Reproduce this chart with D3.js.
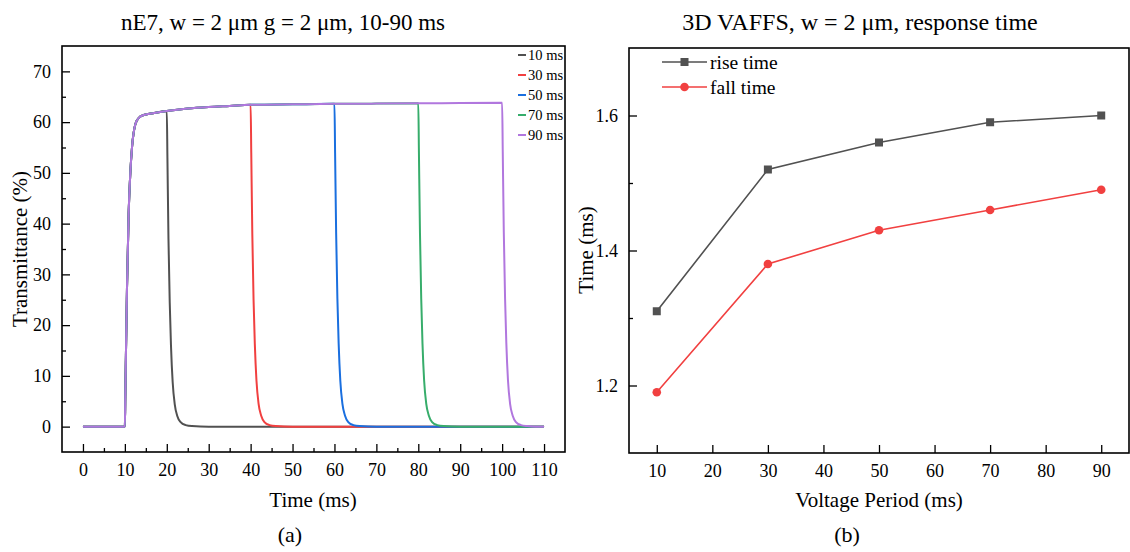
<!DOCTYPE html>
<html>
<head>
<meta charset="utf-8">
<script src="https://cdn.jsdelivr.net/npm/d3@7"></script>
<style>
  html, body { margin: 0; padding: 0; background: #fff; }
  svg { display: block; }
  text { font-family: "Liberation Serif", "Times New Roman", serif; fill: #000; }
</style>
</head>
<body>
<svg id="fig" width="1130" height="552"></svg>
<script>
// ---------- (a) transmittance traces: [time ms, transmittance %] ----------
const trace10 = [[0,0],[10,0],[10.1,6],[10.25,14],[10.5,27],[10.9,42],[11.3,50],[11.7,55],[12.5,59.6],[13.3,60.8],[14.5,61.4],[17,61.8],[20,62.2],
  [20.15,53],[20.4,37],[20.7,24.5],[21,16],[21.4,8.8],[21.9,4.4],[22.5,2.1],[23.3,0.9],[24.5,0.3],[26,0.1],[30,0],[110,0]];
const trace30 = [[0,0],[10,0],[10.1,6],[10.25,14],[10.5,27],[10.9,42],[11.3,50],[11.7,55],[12.5,59.6],[13.3,60.8],[14.5,61.4],[17,61.8],[20,62.2],[25,62.7],[30,63.0],[35,63.2],[40,63.4],
  [40.15,54],[40.4,38],[40.7,25],[41,16.3],[41.4,9],[41.9,4.5],[42.5,2.2],[43.3,0.9],[44.5,0.3],[46,0.1],[50,0],[110,0]];
const trace50 = [[0,0],[10,0],[10.1,6],[10.25,14],[10.5,27],[10.9,42],[11.3,50],[11.7,55],[12.5,59.6],[13.3,60.8],[14.5,61.4],[17,61.8],[20,62.2],[25,62.7],[30,63.0],[35,63.2],[40,63.4],[50,63.5],[60,63.6],
  [60.15,54],[60.4,38.2],[60.7,25.2],[61,16.4],[61.4,9],[61.9,4.5],[62.5,2.2],[63.3,0.9],[64.5,0.3],[66,0.1],[70,0],[110,0]];
const trace70 = [[0,0],[10,0],[10.1,6],[10.25,14],[10.5,27],[10.9,42],[11.3,50],[11.7,55],[12.5,59.6],[13.3,60.8],[14.5,61.4],[17,61.8],[20,62.2],[25,62.7],[30,63.0],[35,63.2],[40,63.4],[50,63.5],[60,63.6],[70,63.65],[80,63.7],
  [80.15,54.1],[80.4,38.2],[80.7,25.2],[81,16.4],[81.4,9],[81.9,4.5],[82.5,2.2],[83.3,0.9],[84.5,0.3],[86,0.1],[90,0],[110,0]];
const trace90 = [[0,0],[10,0],[10.1,6],[10.25,14],[10.5,27],[10.9,42],[11.3,50],[11.7,55],[12.5,59.6],[13.3,60.8],[14.5,61.4],[17,61.8],[20,62.2],[25,62.7],[30,63.0],[35,63.2],[40,63.4],[50,63.5],[60,63.6],[70,63.65],[80,63.7],[90,63.75],[100,63.8],
  [100.15,54.2],[100.4,38.3],[100.7,25.3],[101,16.5],[101.4,9.1],[101.9,4.5],[102.5,2.2],[103.3,0.9],[104.5,0.3],[106,0.1],[108,0],[110,0]];
const traceNames = ["10 ms", "30 ms", "50 ms", "70 ms", "90 ms"];
const traceColors = ["#515151", "#F14040", "#1A6FDF", "#37AD6B", "#B177DE"];
const timeTicks = [0, 10, 20, 30, 40, 50, 60, 70, 80, 90, 100, 110];
const transTicks = [0, 10, 20, 30, 40, 50, 60, 70];

// ---------- (b) response time vs voltage period ----------
const periods = [10, 30, 50, 70, 90];
const riseTime = [1.31, 1.52, 1.56, 1.59, 1.60];
const fallTime = [1.19, 1.38, 1.43, 1.46, 1.49];
const periodTicks = [10, 20, 30, 40, 50, 60, 70, 80, 90];
const timeMsTicks = [1.2, 1.4, 1.6];

const svg = d3.select("#fig");
svg.append("rect").attr("width", 1130).attr("height", 552).attr("fill", "#fff");

function styleAxis(g) {
  g.select(".domain").remove();
  g.selectAll(".tick line").attr("stroke", "#000").attr("stroke-width", 1.3);
  g.selectAll(".tick text").style("font-size", "18px").attr("fill", "#000")
    .style("font-family", '"Liberation Serif", "Times New Roman", serif');
}

// ================= panel (a) =================
const ax = d3.scaleLinear().domain([-5, 115]).range([62, 565]);
const ay = d3.scaleLinear().domain([-5, 75]).range([452, 46]);

const lineA = d3.line().x(d => ax(d[0])).y(d => ay(d[1])).curve(d3.curveMonotoneX);
const traces = [trace10, trace30, trace50, trace70, trace90];
const gA = svg.append("g");
gA.selectAll("path.trace").data(traces).join("path")
  .attr("class", "trace")
  .attr("d", lineA)
  .attr("fill", "none")
  .attr("stroke", (d, i) => traceColors[i])
  .attr("stroke-width", 2);

// axes (ticks pointing inward)
gA.append("g").attr("transform", "translate(0,452)")
  .call(d3.axisBottom(ax).tickValues(d3.range(5, 110, 10)).tickSize(-4).tickFormat(""))
  .call(styleAxis);
gA.append("g").attr("transform", "translate(0,452)")
  .call(d3.axisBottom(ax).tickValues(timeTicks).tickSizeInner(-8).tickSizeOuter(0).tickPadding(11))
  .call(styleAxis);
gA.append("g").attr("transform", "translate(62,0)")
  .call(d3.axisLeft(ay).tickValues(d3.range(5, 75, 10)).tickSize(-4).tickFormat(""))
  .call(styleAxis);
gA.append("g").attr("transform", "translate(62,0)")
  .call(d3.axisLeft(ay).tickValues(transTicks).tickSizeInner(-8).tickSizeOuter(0).tickPadding(11))
  .call(styleAxis);
gA.append("rect").attr("x", 62).attr("y", 46).attr("width", 503).attr("height", 406)
  .attr("fill", "none").attr("stroke", "#000").attr("stroke-width", 1.6);

// legend
const legA = gA.append("g");
traceNames.forEach((name, i) => {
  const y = 55 + i * 20;
  legA.append("line").attr("x1", 518).attr("x2", 526).attr("y1", y).attr("y2", y)
    .attr("stroke", traceColors[i]).attr("stroke-width", 2);
  legA.append("text").attr("x", 528).attr("y", y).attr("dy", "0.35em")
    .style("font-size", "14.5px").text(name);
});

gA.append("text").attr("x", 283).attr("y", 30).attr("text-anchor", "middle")
  .style("font-size", "23px").text("nE7, w = 2 μm g = 2 μm, 10-90 ms");
gA.append("text").attr("x", 313).attr("y", 507).attr("text-anchor", "middle")
  .style("font-size", "21px").text("Time (ms)");
gA.append("text").attr("transform", "translate(27,249) rotate(-90)").attr("text-anchor", "middle")
  .style("font-size", "21px").text("Transmittance (%)");
gA.append("text").attr("x", 290).attr("y", 542).attr("text-anchor", "middle")
  .style("font-size", "22px").text("(a)");

// ================= panel (b) =================
const bx = d3.scaleLinear().domain([5, 95]).range([629, 1129]);
const by = d3.scaleLinear().domain([1.1, 1.7]).range([453, 48]);
const gB = svg.append("g");

gB.append("g").attr("transform", "translate(0,453)")
  .call(d3.axisBottom(bx).tickValues(periodTicks).tickSizeInner(-8).tickSizeOuter(0).tickPadding(11))
  .call(styleAxis);
gB.append("g").attr("transform", "translate(629,0)")
  .call(d3.axisLeft(by).tickValues([1.3, 1.5]).tickSize(-4).tickFormat(""))
  .call(styleAxis);
gB.append("g").attr("transform", "translate(629,0)")
  .call(d3.axisLeft(by).tickValues(timeMsTicks).tickSizeInner(-8).tickSizeOuter(0).tickPadding(11).tickFormat(d3.format(".1f")))
  .call(styleAxis);
gB.append("rect").attr("x", 629).attr("y", 48).attr("width", 500).attr("height", 405)
  .attr("fill", "none").attr("stroke", "#000").attr("stroke-width", 1.6);

const lineB = d3.line().x(d => bx(d[0])).y(d => by(d[1]));
const riseData = periods.map((p, i) => [p, riseTime[i]]);
const fallData = periods.map((p, i) => [p, fallTime[i]]);

gB.append("path").attr("d", lineB(riseData)).attr("fill", "none").attr("stroke", "#515151").attr("stroke-width", 1.6);
gB.append("path").attr("d", lineB(fallData)).attr("fill", "none").attr("stroke", "#F14040").attr("stroke-width", 1.6);
gB.selectAll("rect.rise").data(riseData).join("rect").attr("class", "rise")
  .attr("x", d => bx(d[0]) - 4).attr("y", d => by(d[1]) - 4).attr("width", 8).attr("height", 8)
  .attr("fill", "#515151");
gB.selectAll("circle.fall").data(fallData).join("circle").attr("class", "fall")
  .attr("cx", d => bx(d[0])).attr("cy", d => by(d[1])).attr("r", 4.3)
  .attr("fill", "#F14040");

// legend
const legB = gB.append("g");
legB.append("line").attr("x1", 662).attr("x2", 707).attr("y1", 62).attr("y2", 62).attr("stroke", "#515151").attr("stroke-width", 1.6);
legB.append("rect").attr("x", 680.5).attr("y", 58).attr("width", 8).attr("height", 8).attr("fill", "#515151");
legB.append("text").attr("x", 710).attr("y", 62).attr("dy", "0.35em").style("font-size", "19.5px").text("rise time");
legB.append("line").attr("x1", 662).attr("x2", 707).attr("y1", 87).attr("y2", 87).attr("stroke", "#F14040").attr("stroke-width", 1.6);
legB.append("circle").attr("cx", 684.5).attr("cy", 87).attr("r", 4.3).attr("fill", "#F14040");
legB.append("text").attr("x", 710).attr("y", 87).attr("dy", "0.35em").style("font-size", "19.5px").text("fall time");

gB.append("text").attr("x", 860).attr("y", 30).attr("text-anchor", "middle")
  .style("font-size", "24px").text("3D VAFFS, w = 2 μm, response time");
gB.append("text").attr("x", 879).attr("y", 507).attr("text-anchor", "middle")
  .style("font-size", "21px").text("Voltage Period (ms)");
gB.append("text").attr("transform", "translate(593,250) rotate(-90)").attr("text-anchor", "middle")
  .style("font-size", "21px").text("Time (ms)");
gB.append("text").attr("x", 847).attr("y", 542).attr("text-anchor", "middle")
  .style("font-size", "22px").text("(b)");
</script>
</body>
</html>
